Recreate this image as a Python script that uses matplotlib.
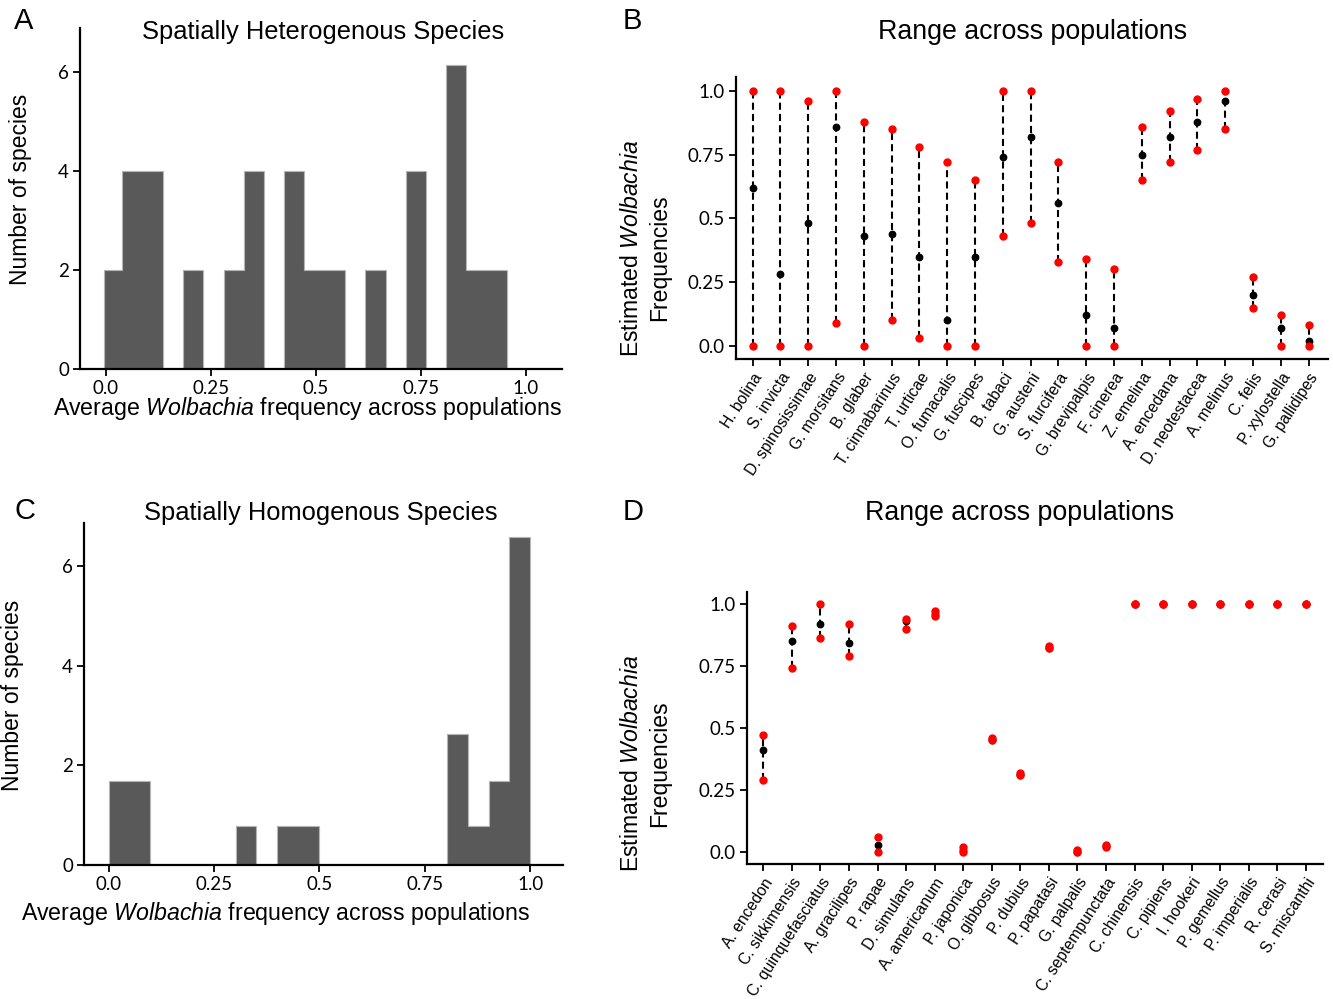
import matplotlib
matplotlib.use("Agg")
import matplotlib.pyplot as plt
import numpy as np

plt.rcParams['font.family'] = ['Liberation Sans', 'DejaVu Sans']
plt.rcParams['mathtext.fontset'] = 'custom'
plt.rcParams['mathtext.rm'] = 'Liberation Sans'
plt.rcParams['mathtext.it'] = 'Liberation Sans:italic'

# panel A: spatially heterogenous species histogram
het_edges = [-0.003, 0.039, 0.087, 0.136, 0.184, 0.232, 0.281, 0.329, 0.376, 0.425, 0.472,
             0.521, 0.569, 0.618, 0.666, 0.715, 0.762, 0.811, 0.858, 0.907, 0.955]
het_counts = [2, 4, 4, 0, 2, 0, 2, 4, 0, 4, 2, 2, 0, 2, 0, 4, 0, 6.15, 2, 2]

# panel C: spatially homogenous species histogram
hom_edges = [0.0, 0.049, 0.098, 0.147, 0.196, 0.245, 0.301, 0.350, 0.40, 0.45, 0.50,
             0.55, 0.60, 0.65, 0.70, 0.75, 0.802, 0.853, 0.903, 0.951, 1.0]
hom_counts = [1.68, 1.68, 0, 0, 0, 0, 0.78, 0, 0.78, 0.78, 0, 0, 0, 0, 0, 0, 2.64, 0.78, 1.68, 6.58]

# panel B: range across populations (heterogenous)
het_species = ['H. bolina', 'S. invicta', 'D. spinosissimae', 'G. morsitans', 'B. glaber',
               'T. cinnabarinus', 'T. urticae', 'O. fumacalis', 'G. fuscipes', 'B. tabaci',
               'G. austeni', 'S. furcifera', 'G. brevipalpis', 'F. cinerea', 'Z. emelina',
               'A. encedana', 'D. neotestacea', 'A. melinus', 'C. felis', 'P. xylostella',
               'G. pallidipes']
het_mean = [0.62, 0.28, 0.48, 0.86, 0.43, 0.44, 0.35, 0.10, 0.35, 0.74, 0.82, 0.56, 0.12,
            0.07, 0.75, 0.82, 0.88, 0.96, 0.20, 0.07, 0.02]
het_low = [0.0, 0.0, 0.0, 0.09, 0.0, 0.10, 0.03, 0.0, 0.0, 0.43, 0.48, 0.33, 0.0,
           0.0, 0.65, 0.72, 0.77, 0.85, 0.15, 0.0, 0.0]
het_high = [1.0, 1.0, 0.96, 1.0, 0.88, 0.85, 0.78, 0.72, 0.65, 1.0, 1.0, 0.72, 0.34,
            0.30, 0.86, 0.92, 0.97, 1.0, 0.27, 0.12, 0.08]

# panel D: range across populations (homogenous)
hom_species = ['A. encedon', 'C. sikkimensis', 'C. quinquefasciatus', 'A. gracilipes', 'P. rapae',
               'D. simulans', 'A. americanum', 'P. japonica', 'O. gibbosus', 'P. dubius',
               'P. papatasi', 'G. palpalis', 'C. septempunctata', 'C. chinensis', 'C. pipiens',
               'I. hookeri', 'P. gemellus', 'P. imperialis', 'R. cerasi', 'S. miscanthi']
hom_mean = [0.41, 0.85, 0.92, 0.84, 0.03, 0.93, 0.957, 0.01, 0.45, 0.31, 0.82, 0.0, 0.025,
            1.0, 1.0, 1.0, 1.0, 1.0, 1.0, 1.0]
hom_low = [0.29, 0.74, 0.86, 0.79, 0.0, 0.90, 0.95, 0.0, 0.45, 0.31, 0.82, 0.0, 0.02,
           1.0, 1.0, 1.0, 1.0, 1.0, 1.0, 1.0]
hom_high = [0.47, 0.91, 1.0, 0.92, 0.06, 0.94, 0.97, 0.02, 0.46, 0.32, 0.83, 0.01, 0.03,
            1.0, 1.0, 1.0, 1.0, 1.0, 1.0, 1.0]

freq_ticks = [0.0, 0.25, 0.5, 0.75, 1.0]
freq_labels = ['0.0', '0.25', '0.5', '0.75', '1.0']
count_ticks = [0, 2, 4, 6]

W, H = 1333, 999
fig = plt.figure(figsize=(W / 100, H / 100), dpi=100)


def px_axes(left, right, bottom, top):
    return fig.add_axes([left / W, 1 - bottom / H, (right - left) / W, (bottom - top) / H])


def style(ax):
    for s in ['top', 'right']:
        ax.spines[s].set_visible(False)
    for s in ['left', 'bottom']:
        ax.spines[s].set_linewidth(1.6)
    ax.tick_params(width=1.3, length=5, color='black', labelsize=13.5, pad=3)
    for lab in ax.get_yticklabels():
        lab.set_family('Lato')


def hist_panel(ax, edges, counts, xlim, ylim):
    ax.stairs(counts, edges, fill=True, facecolor='#595959', edgecolor='#595959', lw=0)
    ax.stairs(counts, edges, fill=False, edgecolor='#b5b5b5', lw=0.8)
    ax.set_xlim(*xlim)
    ax.set_ylim(*ylim)
    ax.set_xticks(freq_ticks)
    ax.set_xticklabels(freq_labels)
    ax.set_yticks(count_ticks)
    style(ax)
    for lab in ax.get_xticklabels():
        lab.set_family('Lato')


def range_panel(ax, names, mean, low, high, xlim, ylim):
    x = np.arange(len(names))
    ax.vlines(x, low, high, colors='black', lw=1.5, linestyles=(0, (3.4, 2.0)))
    ax.plot(x, mean, 'o', color='black', ms=4.6, zorder=3)
    ax.plot(x, low, 'o', color='#ff0000', ms=5, zorder=4)
    ax.plot(x, high, 'o', color='#ff0000', ms=5, zorder=4)
    ax.set_xlim(*xlim)
    ax.set_ylim(*ylim)
    ax.set_yticks(freq_ticks)
    ax.set_yticklabels(freq_labels)
    ax.set_xticks(x)
    ax.set_xticklabels(names, rotation=57, ha='right', rotation_mode='anchor')
    style(ax)
    ax.tick_params(axis='x', labelsize=11.3)


xlab = r'Average $\mathit{Wolbachia}$ frequency across populations'

axA = px_axes(80, 562, 369, 28)
hist_panel(axA, het_edges, het_counts, (-0.061, 1.086), (0, 6.9))
axC = px_axes(84, 563, 865, 523)
hist_panel(axC, hom_edges, hom_counts, (-0.059, 1.078), (0, 6.87))

axB = px_axes(736, 1328, 359, 77)
range_panel(axB, het_species, het_mean, het_low, het_high, (-0.6, 20.7), (-0.052, 1.055))
axD = px_axes(747, 1323, 864, 592)
range_panel(axD, hom_species, hom_mean, hom_low, hom_high, (-0.57, 19.6), (-0.048, 1.047))


def ftext(x, y, s, **kw):
    fig.text(x / W, 1 - y / H, s, **kw)


# panel letters
ftext(24, 21, 'A', fontsize=21, ha='center', va='center')
ftext(632, 21, 'B', fontsize=21, ha='center', va='center')
ftext(25, 511, 'C', fontsize=21, ha='center', va='center')
ftext(633, 512, 'D', fontsize=21, ha='center', va='center')

# titles
ftext(323, 39, 'Spatially Heterogenous Species', fontsize=18.4, ha='center', va='baseline')
ftext(1033, 39, 'Range across populations', fontsize=19.3, ha='center', va='baseline')
ftext(321, 520, 'Spatially Homogenous Species', fontsize=18.4, ha='center', va='baseline')
ftext(1020, 520, 'Range across populations', fontsize=19.3, ha='center', va='baseline')

# axis labels
ftext(307, 415, xlab, fontsize=16.7, ha='center', va='baseline')
ftext(275, 920, xlab, fontsize=16.7, ha='center', va='baseline')
ftext(21, 189, 'Number of species', fontsize=16.5, rotation=90, ha='center', va='center')
ftext(13, 695, 'Number of species', fontsize=16.5, rotation=90, ha='center', va='center')
ftext(631, 248, r'Estimated $\mathit{Wolbachia}$', fontsize=16.6, rotation=90, ha='center', va='center')
ftext(660, 258, 'Frequencies', fontsize=16.6, rotation=90, ha='center', va='center')
ftext(632, 763, r'Estimated $\mathit{Wolbachia}$', fontsize=16.6, rotation=90, ha='center', va='center')
ftext(660, 764, 'Frequencies', fontsize=16.6, rotation=90, ha='center', va='center')

fig.savefig('out.png', dpi=100)
